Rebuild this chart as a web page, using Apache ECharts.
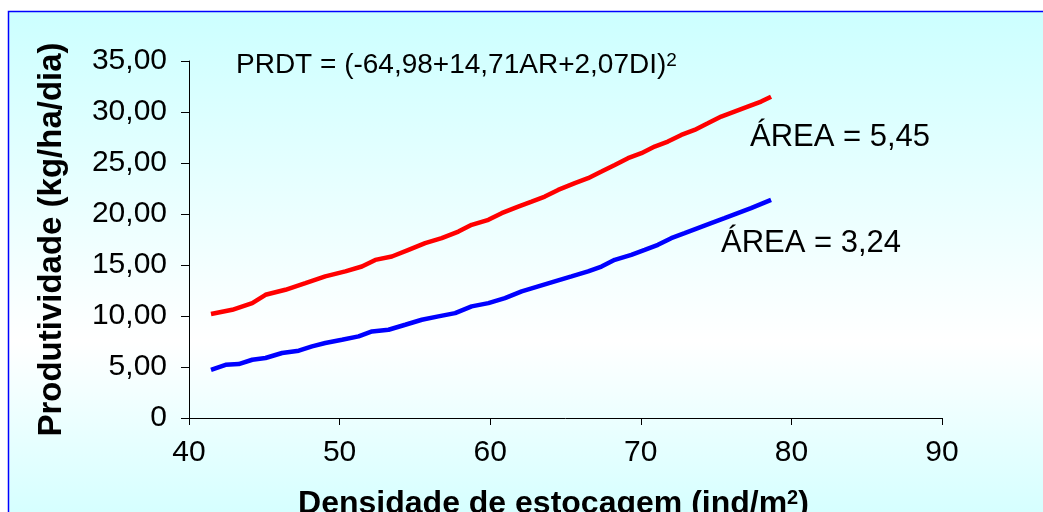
<!DOCTYPE html>
<html>
<head>
<meta charset="utf-8">
<script src="https://cdn.jsdelivr.net/npm/echarts@6/dist/echarts.min.js"></script>
<style>
html,body{margin:0;padding:0;background:#fff;}
#c{width:1043px;height:512px;}
</style>
</head>
<body>
<div id="c"></div>
<script>
// Data
var densidade545 = [41.46, 42.87, 44.2, 45.08, 46.4, 47.73, 49.05, 50.38, 51.48, 52.37, 53.47, 54.58, 55.68, 56.78, 57.89, 58.77, 59.88, 60.76, 61.86, 62.75, 63.63, 64.51, 65.62, 66.5, 67.39, 68.27, 69.15, 70.04, 70.92, 71.8, 72.69, 73.57, 74.45, 75.34, 76.22, 77.1, 77.99, 78.65];
var prod545 = [10.19, 10.61, 11.26, 12.08, 12.57, 13.22, 13.88, 14.37, 14.85, 15.5, 15.83, 16.49, 17.14, 17.63, 18.28, 18.94, 19.43, 20.08, 20.73, 21.22, 21.71, 22.36, 23.02, 23.51, 24.16, 24.81, 25.47, 25.96, 26.61, 27.1, 27.75, 28.24, 28.89, 29.55, 30.04, 30.53, 31.02, 31.5];
var densidade324 = [41.46, 42.43, 43.3, 44.2, 45.08, 46.18, 47.29, 48.17, 49.05, 50.16, 51.26, 52.15, 53.25, 54.36, 55.46, 56.56, 57.67, 58.77, 59.88, 60.98, 62.09, 63.19, 64.29, 65.4, 66.5, 67.39, 68.27, 69.37, 70.26, 71.14, 72.02, 72.91, 73.79, 74.67, 75.56, 76.44, 77.32, 78.65];
var prod324 = [4.73, 5.22, 5.29, 5.71, 5.88, 6.37, 6.6, 7.02, 7.35, 7.67, 8.0, 8.49, 8.65, 9.14, 9.63, 9.96, 10.28, 10.94, 11.26, 11.75, 12.41, 12.9, 13.39, 13.88, 14.37, 14.85, 15.51, 16.0, 16.49, 16.98, 17.63, 18.12, 18.61, 19.1, 19.59, 20.08, 20.57, 21.38];
var equationText = 'PRDT = (-64,98+14,71AR+2,07DI)';
var equationSup = '2';
var label545 = 'ÁREA = 5,45';
var label324 = 'ÁREA = 3,24';
var xAxisTitle = 'Densidade de estocagem (ind/m';
var yAxisTitle = 'Produtividade (kg/ha/dia)';

function pairs(xs, ys) { return xs.map(function (x, i) { return [x, ys[i]]; }); }

var FONT = 'Liberation Sans, Arial, sans-serif';
var chart = echarts.init(document.getElementById('c'), null, {renderer: 'canvas'});
chart.setOption({
  animation: false,
  backgroundColor: '#ffffff',
  graphic: [
    {
      type: 'rect', z: -10, silent: true,
      shape: {x: 8.5, y: 11.5, width: 1100, height: 540},
      style: {
        fill: new echarts.graphic.LinearGradient(0, 0, 0, 1, [
          {offset: 0, color: '#CCFFFF'},
          {offset: 0.61, color: '#FFFFFF'},
          {offset: 1, color: '#CCFFFF'}
        ]),
        stroke: '#0000FF', lineWidth: 1.5
      }
    },
    {
      type: 'text', left: 750, top: 122, z: 10,
      style: {text: label545, font: '31px ' + FONT, fill: '#000'}
    },
    {
      type: 'text', left: 721, top: 228, z: 10,
      style: {text: label324, font: '31px ' + FONT, fill: '#000'}
    }
  ],
  title: {
    left: 231, top: 46,
    text: '{a|' + equationText + '}{s|' + equationSup + '}',
    textStyle: {
      rich: {
        a: {fontSize: 28, fontFamily: FONT, color: '#000', fontWeight: 'normal'},
        s: {fontSize: 19, fontFamily: FONT, color: '#000', verticalAlign: 'top', fontWeight: 'normal'}
      }
    }
  },
  grid: {left: 189, right: 101, top: 61, bottom: 94, containLabel: false, outerBoundsMode: 'none'},
  xAxis: {
    type: 'value', min: 40, max: 90, interval: 10,
    name: xAxisTitle + '{s|2})',
    nameLocation: 'middle', nameGap: 70,
    nameTextStyle: {
      fontSize: 32, fontWeight: 'bold', fontFamily: FONT, color: '#000',
      padding: [0, 24, 0, 0],
      rich: {s: {fontSize: 20, fontWeight: 'bold', fontFamily: FONT, color: '#000', verticalAlign: 'top'}}
    },
    axisLine: {show: true, onZero: false, lineStyle: {color: '#000', width: 1}},
    axisTick: {show: true, length: 7, lineStyle: {color: '#000'}},
    axisLabel: {fontSize: 30, fontFamily: FONT, color: '#000', margin: 20},
    splitLine: {show: false}
  },
  yAxis: {
    type: 'value', min: 0, max: 35, interval: 5,
    name: yAxisTitle,
    nameLocation: 'middle', nameGap: 121, nameRotate: 90,
    nameTextStyle: {fontSize: 33, fontWeight: 'bold', fontFamily: FONT, color: '#000'},
    axisLine: {show: true, lineStyle: {color: '#000', width: 1}},
    axisTick: {show: true, length: 8, lineStyle: {color: '#000'}},
    axisLabel: {
      fontSize: 30, fontFamily: FONT, color: '#000', margin: 22,
      formatter: function (v) { return v === 0 ? '0' : v.toFixed(2).replace('.', ','); }
    },
    splitLine: {show: false}
  },
  series: [
    {
      type: 'line', data: pairs(densidade545, prod545), showSymbol: false, smooth: false,
      lineStyle: {color: '#FF0000', width: 4.5}, itemStyle: {color: '#FF0000'}
    },
    {
      type: 'line', data: pairs(densidade324, prod324), showSymbol: false, smooth: false,
      lineStyle: {color: '#0000FF', width: 4.5}, itemStyle: {color: '#0000FF'}
    }
  ]
});
</script>
</body>
</html>
